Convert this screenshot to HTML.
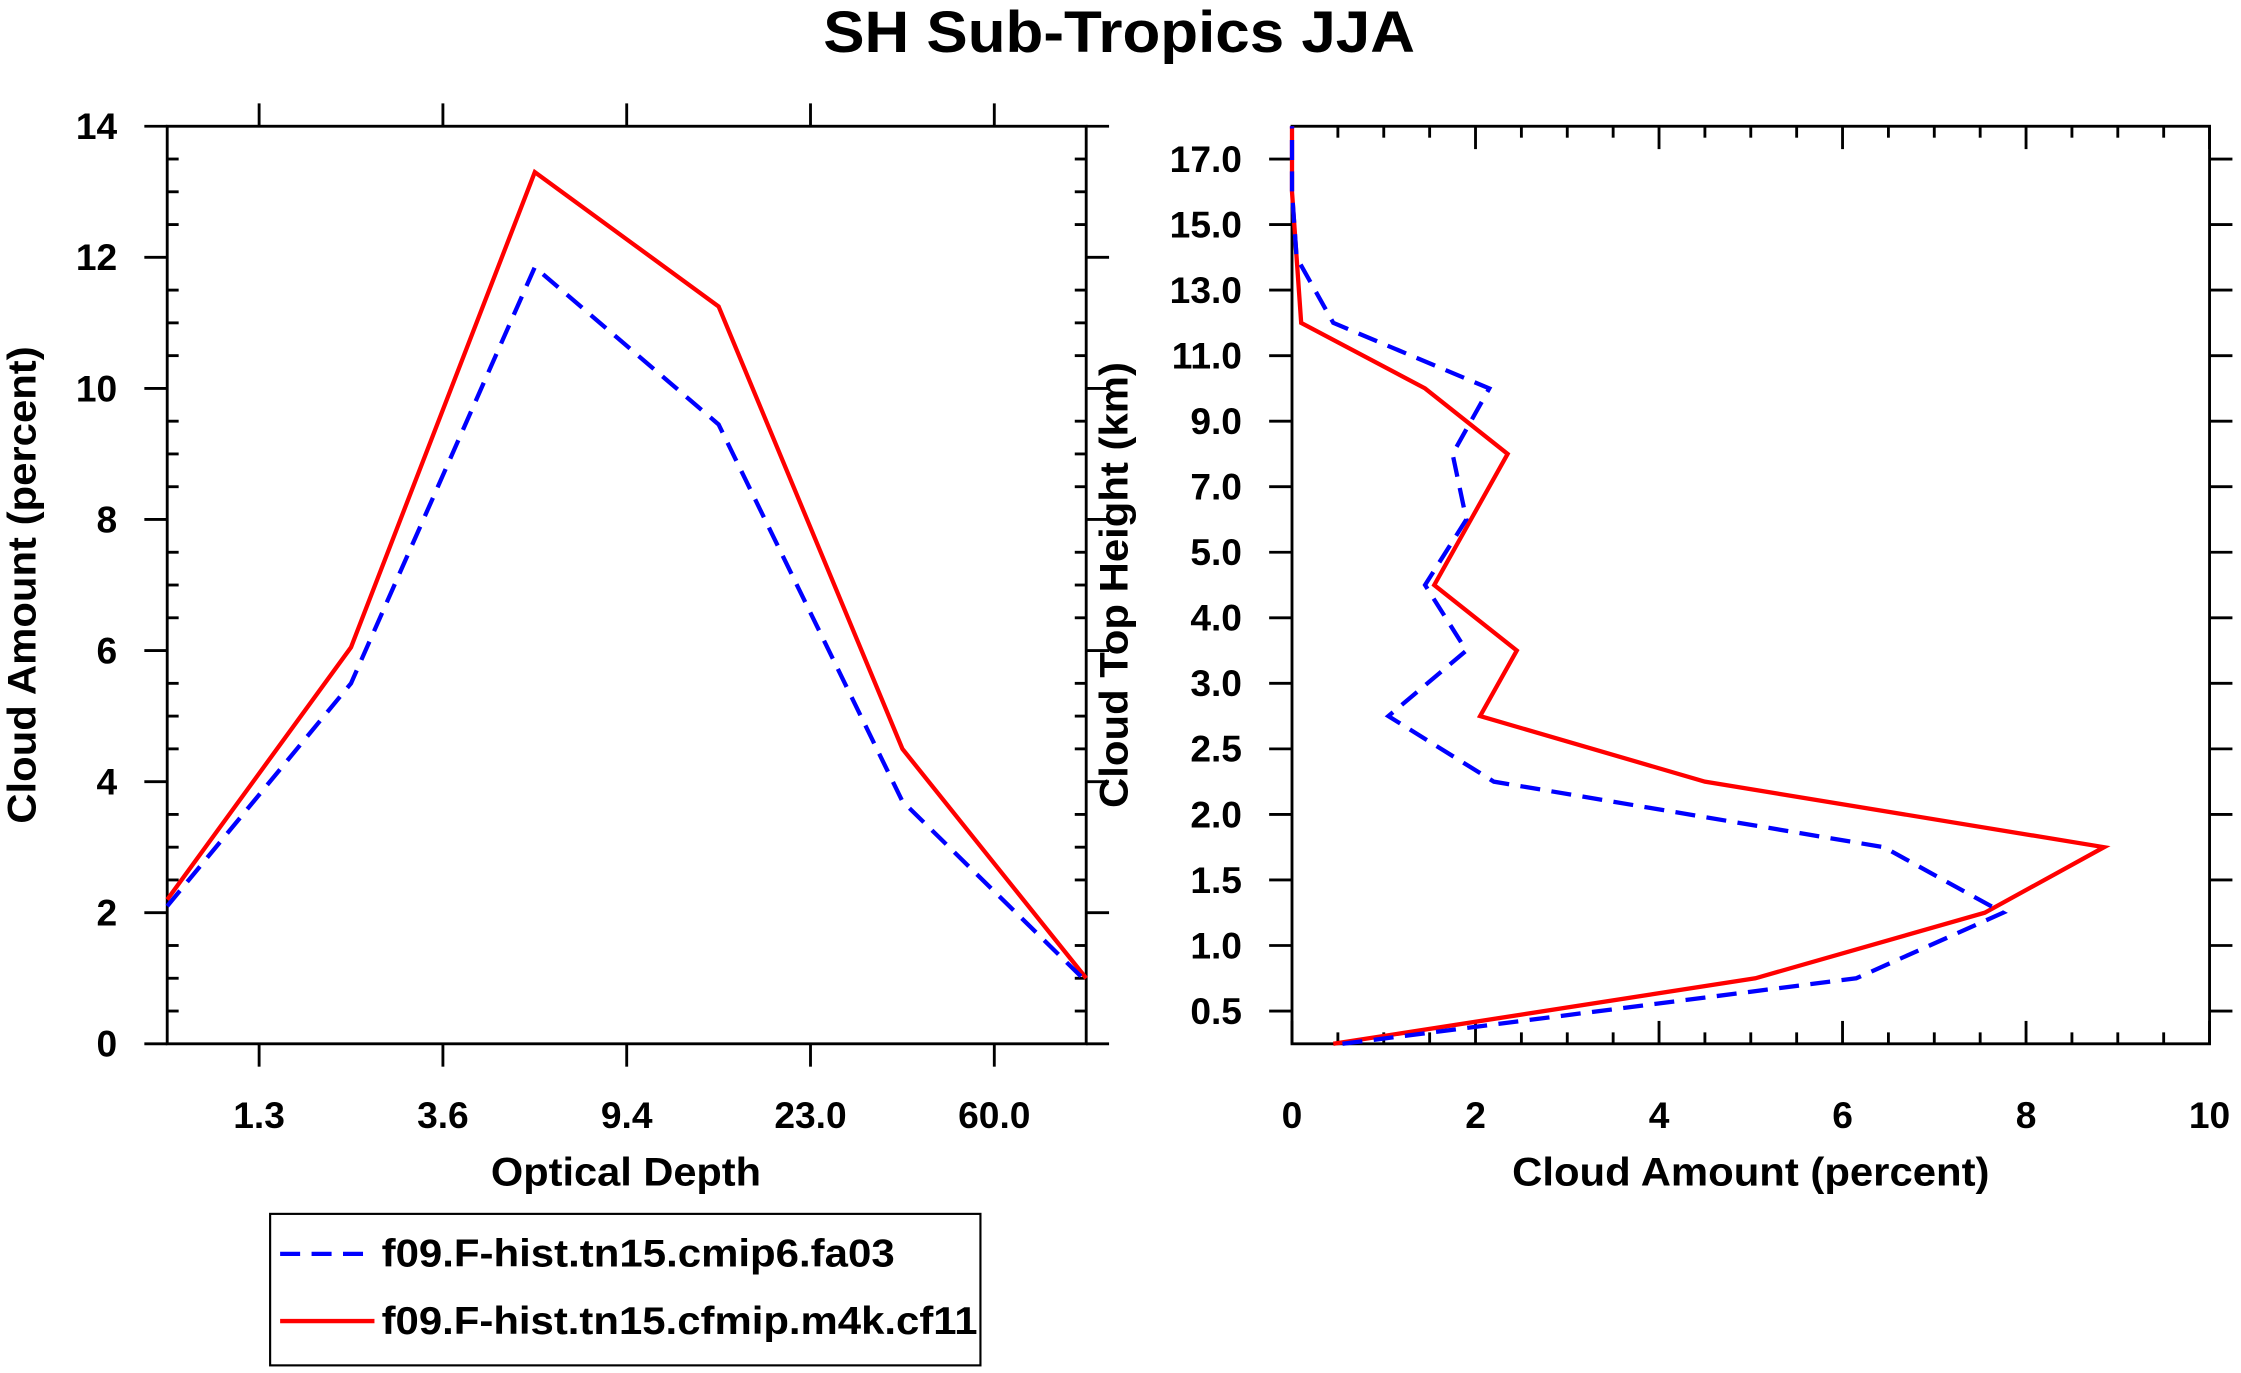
<!DOCTYPE html>
<html><head><meta charset="utf-8"><style>
html,body{margin:0;padding:0;background:#fff;}
svg{display:block;font-family:"Liberation Sans",sans-serif;font-weight:bold;}
</style></head><body>
<svg id="c" width="2241" height="1373" viewBox="0 0 1568 960">
<text x="783" y="36" font-size="41" text-anchor="middle" textLength="414" lengthAdjust="spacingAndGlyphs">SH Sub-Tropics JJA</text>
<g id="left"></g>
<g id="right"></g>
<g>
<rect x="189" y="849" width="497" height="106" fill="none" stroke="#000" stroke-width="1.5"/>
<line x1="196" y1="877" x2="262" y2="877" stroke="#0000ff" stroke-width="3" stroke-dasharray="14,8"/>
<text x="267" y="886" font-size="27" textLength="359" lengthAdjust="spacingAndGlyphs">f09.F-hist.tn15.cmip6.fa03</text>
<line x1="196" y1="924" x2="262" y2="924" stroke="#ff0000" stroke-width="3"/>
<text x="267" y="933" font-size="27" textLength="417" lengthAdjust="spacingAndGlyphs">f09.F-hist.tn15.cfmip.m4k.cf11</text>
</g>
</svg>
<script>
// Left panel data
const odTickLabels = ["1.3","3.6","9.4","23.0","60.0"];
const odBlue = [2.1, 5.5, 11.85, 9.45, 3.7, 0.95];
const odRed = [2.2, 6.05, 13.3, 11.25, 4.5, 1.0];
const odYTicks = [0,2,4,6,8,10,12,14];
// Right panel data
const cthTickLabels = ["0.5","1.0","1.5","2.0","2.5","3.0","4.0","5.0","7.0","9.0","11.0","13.0","15.0","17.0"];
const cthBlue = [0.55, 6.15, 7.75, 6.45, 2.2, 1.05, 1.9, 1.45, 1.9, 1.75, 2.15, 0.45, 0.05, 0.0, 0.0];
const cthRed = [0.45, 5.05, 7.55, 8.85, 4.5, 2.05, 2.45, 1.55, 1.95, 2.35, 1.45, 0.1, 0.05, 0.0, 0.0];
const cthXTicks = [0,2,4,6,8,10];

const NS="http://www.w3.org/2000/svg";
function mk(parent,tag,attrs){const e=document.createElementNS(NS,tag);for(const k in attrs)e.setAttribute(k,attrs[k]);parent.appendChild(e);return e;}

// LEFT
(function(){
const g=document.getElementById('left');
const L=117,R=760,T=88,B=730;
const x=i=>L+(R-L)*i/5;
const y=v=>B-(B-T)*v/14;
mk(g,'rect',{x:L,y:T,width:R-L,height:B-T,fill:'none',stroke:'#000','stroke-width':2});
for(let v=0;v<=14;v+=0.5){
  const maj=v%2===0;
  const len=maj?16:8;
  mk(g,'line',{x1:L-(maj?len:0),x2:L+(maj?0:len),y1:y(v),y2:y(v),stroke:'#000','stroke-width':2});
  mk(g,'line',{x1:R+(maj?len:0),x2:R-(maj?0:len),y1:y(v),y2:y(v),stroke:'#000','stroke-width':2});
}
odYTicks.forEach(v=>{const t=mk(g,'text',{x:82,y:y(v)+9,'font-size':26,'text-anchor':'end'});t.textContent=v;

});
odTickLabels.forEach((s,i)=>{const cx=(x(i)+x(i+1))/2;
  mk(g,'line',{x1:cx,x2:cx,y1:B,y2:B+16,stroke:'#000','stroke-width':2});
  mk(g,'line',{x1:cx,x2:cx,y1:T,y2:T-16,stroke:'#000','stroke-width':2});
  const t=mk(g,'text',{x:cx,y:789,'font-size':26,'text-anchor':'middle'});t.textContent=s;
  
  });
let t=mk(g,'text',{x:438,y:829,'font-size':28,'text-anchor':'middle',textLength:189,lengthAdjust:'spacingAndGlyphs'});t.textContent='Optical Depth';


t=mk(g,'text',{x:0,y:0,'font-size':28,'text-anchor':'middle',textLength:334,lengthAdjust:'spacingAndGlyphs',transform:'translate(25,409) rotate(-90)'});t.textContent='Cloud Amount (percent)';


let p=mk(g,'polyline',{points:odRed.map((v,i)=>x(i)+','+y(v)).join(' '),fill:'none',stroke:'#ff0000','stroke-width':3});


p=mk(g,'polyline',{points:odBlue.map((v,i)=>x(i)+','+y(v)).join(' '),fill:'none',stroke:'#0000ff','stroke-width':3,'stroke-dasharray':'14,8'});


})();

// RIGHT
(function(){
const g=document.getElementById('right');
const L=904,R=1546,T=88,B=730;
const x=v=>L+(R-L)*v/10;
const y=i=>B-(B-T)*i/14;
mk(g,'rect',{x:L,y:T,width:R-L,height:B-T,fill:'none',stroke:'#000','stroke-width':2});
for(let v=0;v<=10.001;v+=0.5){
  const maj=Math.abs(v%2)<1e-6;
  const len=maj?16:8;
  mk(g,'line',{x1:x(v),x2:x(v),y1:B,y2:B-len,stroke:'#000','stroke-width':2});
  mk(g,'line',{x1:x(v),x2:x(v),y1:T,y2:T+len,stroke:'#000','stroke-width':2});
}
cthXTicks.forEach(v=>{const t=mk(g,'text',{x:x(v),y:789,'font-size':26,'text-anchor':'middle'});t.textContent=v;

});
cthTickLabels.forEach((s,i)=>{const cy=(y(i)+y(i+1))/2;
  mk(g,'line',{x1:L,x2:L-16,y1:cy,y2:cy,stroke:'#000','stroke-width':2});
  mk(g,'line',{x1:R,x2:R+16,y1:cy,y2:cy,stroke:'#000','stroke-width':2});
  const t=mk(g,'text',{x:869,y:cy+9,'font-size':26,'text-anchor':'end'});t.textContent=s;
  
  });
let t=mk(g,'text',{x:1225,y:829,'font-size':28,'text-anchor':'middle',textLength:334,lengthAdjust:'spacingAndGlyphs'});t.textContent='Cloud Amount (percent)';


t=mk(g,'text',{x:0,y:0,'font-size':28,'text-anchor':'middle',textLength:312,lengthAdjust:'spacingAndGlyphs',transform:'translate(789,409) rotate(-90)'});t.textContent='Cloud Top Height (km)';


let p=mk(g,'polyline',{points:cthRed.map((v,i)=>x(v)+','+y(i)).join(' '),fill:'none',stroke:'#ff0000','stroke-width':3});


p=mk(g,'polyline',{points:cthBlue.map((v,i)=>x(v)+','+y(i)).join(' '),fill:'none',stroke:'#0000ff','stroke-width':3,'stroke-dasharray':'14,8'});


})();
</script>
</body></html>
